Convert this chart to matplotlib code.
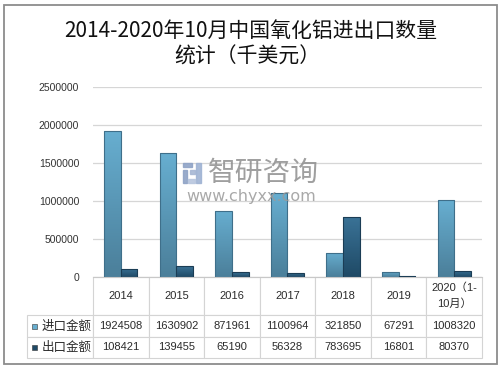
import numpy as np
import matplotlib
matplotlib.use("Agg")
import matplotlib.pyplot as plt
from matplotlib.patches import Rectangle

# data
years = ["2014", "2015", "2016", "2017", "2018", "2019", "2020（1-\n10月）"]
imports = [1924508, 1630902, 871961, 1100964, 321850, 67291, 1008320]
exports = [108421, 139455, 65190, 56328, 783695, 16801, 80370]
series_names = ["进口金额", "出口金额"]
yticks = [0, 500000, 1000000, 1500000, 2000000, 2500000]

CJK = ["Noto Sans CJK SC", "DejaVu Sans"]
NUM = ["Liberation Sans", "Noto Sans CJK SC"]
imp_col = ("#67aed0", "#4b7f9a", "#3f6f8a")   # top, bottom, edge
exp_col = ("#3a7296", "#1f4a66", "#1b3d55")

W, H = 502, 370
fig = plt.figure(figsize=(W / 100, H / 100), dpi=100)
fig.patch.set_facecolor("white")

# outer frame
fig.patches.append(Rectangle((4 / W, 6 / H), 493 / W, 359 / H, transform=fig.transFigure,
                             fill=False, edgecolor="#8c8c8c", linewidth=1.3))

# title
fig.text(251 / W, 1 - 31 / H, "2014-2020年10月中国氧化铝进出口数量", ha="center", va="center",
         fontsize=15, family=CJK, color="#111111", fontweight="medium")
fig.text(247 / W, 1 - 57 / H, "统计（千美元）", ha="center", va="center",
         fontsize=15, family=CJK, color="#111111", fontweight="medium")

# axes
x0, x1, ytop, ybot = 93, 482, 87, 277
ax = fig.add_axes([x0 / W, 1 - ybot / H, (x1 - x0) / W, (ybot - ytop) / H])
ax.set_xlim(-0.5, len(years) - 0.5)
ax.set_ylim(0, 2500000)
ax.set_yticks(yticks)
ax.set_yticklabels([str(v) for v in yticks], fontsize=7.5, family=NUM, color="#333333")
ax.tick_params(axis="y", length=0, pad=10)
ax.set_xticks([])
for s in ["top", "right", "left"]:
    ax.spines[s].set_visible(False)
ax.spines["bottom"].set_color("#c8c8c8")
ax.grid(axis="y", color="#d6d6d6", linewidth=0.9)
ax.set_axisbelow(True)

x = np.arange(len(years))
bw = 0.3


def grad_bars(bars, cols):
    grad = np.linspace(0, 1, 64).reshape(-1, 1)
    cmap = matplotlib.colors.LinearSegmentedColormap.from_list("g", [cols[1], cols[0]])
    for b in bars:
        bx, by = b.get_x(), b.get_y()
        bwid, bh = b.get_width(), b.get_height()
        im = ax.imshow(grad, extent=[bx, bx + bwid, by, by + bh], origin="lower",
                       aspect="auto", cmap=cmap, zorder=2)
        im.set_clip_path(b)
    ax.set_xlim(-0.5, len(years) - 0.5)
    ax.set_ylim(0, 2500000)


b1 = ax.bar(x - bw / 2, imports, bw, facecolor="none", edgecolor=imp_col[2], linewidth=0.8, zorder=3)
b2 = ax.bar(x + bw / 2, exports, bw, facecolor="none", edgecolor=exp_col[2], linewidth=0.8, zorder=3)
grad_bars(b1, imp_col)
grad_bars(b2, exp_col)

# watermark
fig.text(263 / W, 1 - 173 / H, "智研咨询", ha="center", va="center", fontsize=20,
         family=CJK, color="#8e8e8e", alpha=0.85, zorder=10)
fig.text(251 / W, 1 - 197 / H, "www.chyxx.com", ha="center", va="center", fontsize=11.5,
         family="DejaVu Sans", color="#9a9a9a", alpha=0.85, zorder=10)
for (lx, ly, lw, lh, c) in [(183, 163, 9, 4, "#8fa3c6"), (183, 170, 4, 13, "#8fa3c6"),
                            (190, 170, 5, 4, "#a8b8d4"), (196, 163, 5, 20, "#9fb3d3"),
                            (188, 179, 7, 4, "#b8c6de")]:
    fig.patches.append(Rectangle((lx / W, 1 - (ly + lh) / H), lw / W, lh / H,
                                 transform=fig.transFigure, color=c, alpha=0.9, zorder=10))

# data table (first column = series labels)
cells = [[series_names[0]] + [str(v) for v in imports],
         [series_names[1]] + [str(v) for v in exports]]
tl = 27
tab_bottom = 358
colw = [x0 - tl] + [(x1 - x0) / len(years)] * len(years)
tbl = ax.table(cellText=cells, colLabels=[""] + years, colWidths=colw, cellLoc="center",
               bbox=[(tl - x0) / (x1 - x0), -(tab_bottom - ybot) / (ybot - ytop),
                     (x1 - tl) / (x1 - x0), (tab_bottom - ybot) / (ybot - ytop)])
tbl.auto_set_font_size(False)
heights = {0: 38, 1: 22, 2: 21}
for (r, c), cell in tbl.get_celld().items():
    cell.set_edgecolor("#d4d4d4")
    cell.set_linewidth(0.8)
    cell.set_height(heights[r])
    txt = cell.get_text()
    txt.set_color("#2b2b2b")
    if c == 0:
        if r == 0:
            cell.visible_edges = ""
        txt.set_fontsize(9)
        txt.set_fontfamily(CJK)
        txt.set_horizontalalignment("right")
        cell._loc = "right"
        cell.PAD = 0.02
    else:
        txt.set_fontsize(8)
        txt.set_fontfamily(NUM)
    if r == 0:
        txt.set_linespacing(1.6)

# legend keys in row labels
for i, col in enumerate([imp_col[0], exp_col[1]]):
    yc = [(315 + 337) / 2, (337 + 358) / 2][i]
    ax.add_patch(Rectangle(((32 - x0) / (x1 - x0), -(yc + 2.5 - ybot) / (ybot - ytop)),
                           5 / (x1 - x0), 5 / (ybot - ytop), transform=ax.transAxes,
                           facecolor=col, edgecolor="#333333", linewidth=0.4, clip_on=False))

fig.savefig("out.png", dpi=100)
